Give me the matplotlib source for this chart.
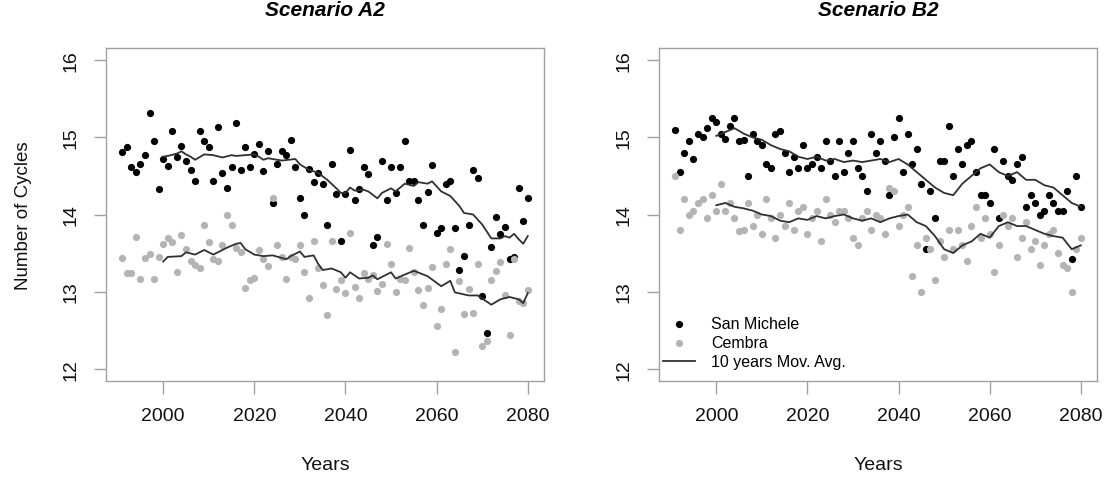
import matplotlib
matplotlib.use('Agg')
import matplotlib.pyplot as plt
import numpy as np

plt.rcParams['font.family'] = ['Liberation Sans', 'DejaVu Sans']

# Years of the annual series
years = np.arange(1991, 2081)

# Scenario A2 - annual values
a2_san_michele = [
    14.81, 14.88, 14.62, 14.55, 14.66, 14.77, 15.32, 14.95, 14.33, 14.72,
    14.63, 15.08, 14.74, 14.89, 14.70, 14.58, 14.44, 15.08, 14.95, 14.87,
    14.43, 15.14, 14.54, 14.35, 14.62, 15.19, 14.58, 14.88, 14.62, 14.78,
    14.92, 14.56, 14.83, 14.15, 14.65, 14.83, 14.77, 14.97, 14.62, 14.22,
    13.99, 14.59, 14.42, 14.54, 14.39, 13.87, 14.66, 14.26, 13.65, 14.27,
    14.84, 14.19, 14.33, 14.62, 14.53, 13.61, 13.71, 14.69, 14.19, 14.61,
    14.28, 14.62, 14.95, 14.43, 14.43, 14.19, 13.87, 14.29, 14.64, 13.76,
    13.83, 14.40, 14.43, 13.83, 13.28, 13.46, 13.87, 14.58, 14.48, 12.94,
    12.46, 13.58, 13.97, 13.75, 13.84, 13.42, 13.45, 14.35, 13.92, 14.22,
]
a2_cembra = [
    13.43, 13.24, 13.24, 13.71, 13.16, 13.43, 13.49, 13.16, 13.45, 13.62,
    13.70, 13.64, 13.25, 13.73, 13.55, 13.40, 13.35, 13.30, 13.86, 13.64,
    13.42, 13.40, 13.61, 13.99, 13.87, 13.57, 13.51, 13.05, 13.15, 13.18,
    13.54, 13.42, 13.33, 14.22, 13.60, 13.45, 13.16, 13.45, 13.42, 13.60,
    13.25, 12.92, 13.66, 13.30, 13.08, 12.70, 13.66, 13.03, 13.15, 12.98,
    13.76, 13.06, 12.92, 13.24, 13.16, 13.22, 13.01, 13.10, 13.62, 13.36,
    12.99, 13.16, 13.15, 13.56, 13.26, 13.02, 12.83, 13.05, 13.32, 12.56,
    12.78, 13.36, 13.55, 12.22, 13.14, 12.71, 13.03, 12.72, 13.36, 12.29,
    12.36, 13.15, 13.27, 13.39, 12.95, 12.44, 13.42, 12.88, 12.85, 13.02,
]

# Scenario A2 - 10 years moving averages
a2_sm_avg_years = [2000, 2001, 2003, 2004, 2005, 2006, 2007, 2009, 2011, 2013,
                   2015, 2016, 2018, 2020, 2021, 2022, 2023, 2024, 2026, 2029,
                   2030, 2032, 2034, 2036, 2038, 2039, 2040, 2041, 2042, 2044,
                   2045, 2047, 2048, 2050, 2051, 2053, 2055, 2056, 2058, 2059,
                   2061, 2063, 2065, 2066, 2068, 2070, 2072, 2074, 2075, 2076,
                   2077, 2078, 2079, 2080]
a2_sm_avg = [14.75, 14.76, 14.79, 14.82, 14.78, 14.75, 14.71, 14.78, 14.77, 14.74,
             14.77, 14.76, 14.77, 14.78, 14.75, 14.71, 14.73, 14.72, 14.70, 14.72,
             14.65, 14.58, 14.54, 14.45, 14.34, 14.28, 14.28, 14.35, 14.31, 14.32,
             14.30, 14.21, 14.28, 14.34, 14.30, 14.40, 14.37, 14.42, 14.40, 14.43,
             14.30, 14.24, 14.11, 14.02, 14.00, 13.87, 13.69, 13.69, 13.72, 13.70,
             13.75, 13.68, 13.62, 13.72]
a2_ce_avg_years = [2000, 2001, 2004, 2005, 2007, 2009, 2011, 2014, 2016, 2017,
                   2018, 2020, 2022, 2024, 2027, 2028, 2030, 2031, 2033, 2034,
                   2035, 2037, 2039, 2040, 2041, 2043, 2045, 2046, 2047, 2050,
                   2051, 2055, 2058, 2061, 2063, 2064, 2067, 2069, 2072, 2074,
                   2076, 2078, 2079, 2080]
a2_ce_avg = [13.39, 13.45, 13.46, 13.51, 13.48, 13.54, 13.48, 13.57, 13.62, 13.63,
             13.55, 13.48, 13.46, 13.47, 13.42, 13.46, 13.52, 13.45, 13.47, 13.36,
             13.28, 13.30, 13.25, 13.18, 13.25, 13.17, 13.18, 13.21, 13.16, 13.25,
             13.17, 13.27, 13.20, 13.07, 13.14, 12.99, 12.95, 12.95, 12.83, 12.90,
             12.93, 12.90, 12.85, 12.98]

# Scenario B2 - annual values
b2_san_michele = [
    15.10, 14.55, 14.80, 14.95, 14.72, 15.05, 15.00, 15.12, 15.25, 15.20,
    15.05, 14.98, 15.15, 15.25, 14.95, 14.97, 14.50, 15.05, 14.95, 14.90,
    14.65, 14.60, 15.05, 15.08, 14.80, 14.55, 14.75, 14.60, 14.90, 14.60,
    14.65, 14.75, 14.60, 14.95, 14.70, 14.50, 14.95, 14.55, 14.80, 14.95,
    14.60, 14.50, 14.30, 15.05, 14.80, 14.95, 14.70, 14.25, 15.00, 15.25,
    14.55, 15.05, 14.65, 14.85, 14.40, 13.55, 14.30, 13.95, 14.70, 14.70,
    15.15, 14.50, 14.85, 14.65, 14.90, 14.95, 14.55, 14.25, 14.25, 14.15,
    14.85, 13.95, 14.70, 14.50, 14.45, 14.65, 14.75, 14.10, 14.25, 14.15,
    14.00, 14.05, 14.25, 14.15, 14.05, 14.05, 14.30, 13.42, 14.50, 14.10,
]
b2_cembra = [
    14.50, 13.80, 14.20, 14.00, 14.05, 14.15, 14.20, 13.95, 14.25, 14.05,
    14.40, 14.05, 14.15, 13.95, 13.78, 13.80, 14.15, 13.85, 14.00, 13.75,
    14.20, 13.95, 13.70, 14.00, 13.85, 14.15, 13.80, 14.05, 14.10, 13.75,
    13.95, 14.05, 13.65, 14.20, 14.00, 13.90, 14.05, 14.05, 13.95, 13.70,
    13.60, 13.95, 14.05, 13.80, 14.00, 13.95, 13.75, 14.35, 14.30, 13.85,
    14.00, 14.10, 13.20, 13.60, 13.00, 13.70, 13.55, 13.15, 13.65, 13.45,
    13.80, 13.55, 13.80, 13.60, 13.40, 13.85, 14.10, 13.70, 13.95, 13.75,
    13.25, 13.60, 14.00, 13.85, 13.95, 13.45, 13.70, 13.90, 13.55, 13.65,
    13.35, 13.60, 13.75, 13.80, 13.50, 13.35, 13.30, 13.00, 13.55, 13.70,
]

# Scenario B2 - 10 years moving averages
b2_avg_years = list(range(2000, 2081, 2))
b2_sm_avg = [15.02, 15.07, 15.12, 15.05, 15.00, 14.97, 14.90, 14.85, 14.82, 14.75,
             14.72, 14.75, 14.70, 14.72, 14.68, 14.70, 14.68, 14.70, 14.72, 14.68,
             14.72, 14.65, 14.55, 14.45, 14.35, 14.28, 14.25, 14.40, 14.50, 14.60,
             14.65, 14.55, 14.50, 14.55, 14.45, 14.45, 14.38, 14.35, 14.25, 14.15,
             14.10]
b2_ce_avg = [14.12, 14.15, 14.10, 14.08, 14.05, 14.00, 13.98, 13.92, 13.90, 13.95,
             13.93, 13.98, 13.95, 13.98, 14.00, 13.95, 13.92, 13.95, 13.90, 13.95,
             13.98, 14.00, 13.90, 13.85, 13.72, 13.55, 13.50, 13.60, 13.65, 13.75,
             13.70, 13.85, 13.90, 13.85, 13.85, 13.80, 13.75, 13.72, 13.70, 13.55,
             13.60]

titles = ['Scenario A2', 'Scenario B2']
x_ticks = [2000, 2020, 2040, 2060, 2080]
y_ticks = [12, 13, 14, 15, 16]

SPINE_GRAY = '#a0a0a0'
POINT_GRAY = '#b4b4b4'
LINE_COLOR = '#303030'
MS = 27

fig = plt.figure(figsize=(11.05, 4.81), dpi=100)
ax_a = fig.add_axes([0.0959, 0.2058, 0.3964, 0.6923])
ax_b = fig.add_axes([0.5964, 0.2058, 0.3964, 0.6923])

panels = [
    (ax_a, a2_san_michele, a2_cembra, a2_sm_avg_years, a2_sm_avg, a2_ce_avg_years, a2_ce_avg),
    (ax_b, b2_san_michele, b2_cembra, b2_avg_years, b2_sm_avg, b2_avg_years, b2_ce_avg),
]

for i, (ax, sm, ce, smy, sma, cey, cea) in enumerate(panels):
    ax.scatter(years, sm, s=MS, color='black', linewidths=0, label='San Michele', zorder=3)
    ax.scatter(years, ce, s=MS, color=POINT_GRAY, linewidths=0, label='Cembra', zorder=3)
    ax.plot(smy, sma, color=LINE_COLOR, lw=1.3, label='10 years Mov. Avg.', zorder=4)
    ax.plot(cey, cea, color=LINE_COLOR, lw=1.3, zorder=4)

    # R-style 4% axis extension
    ax.set_xlim(1991 - 0.04 * 89, 2080 + 0.04 * 89)
    ax.set_ylim(12 - 0.16, 16 + 0.16)
    ax.set_xticks(x_ticks)
    ax.set_yticks(y_ticks)
    ax.tick_params(axis='both', direction='out', length=9, width=1,
                   color=SPINE_GRAY, labelsize=14, labelcolor='#111111', pad=10)
    for lab in ax.get_yticklabels():
        lab.set_rotation(90)
        lab.set_va('center')
    for sp in ax.spines.values():
        sp.set_color(SPINE_GRAY)
        sp.set_linewidth(1)

    ax.set_title(titles[i], fontsize=15, fontweight='bold', fontstyle='italic', pad=24)
    ax.set_xlabel('Years', fontsize=14, color='#111111')
    ax.xaxis.set_label_coords(0.5, -0.225)
    if i == 0:
        ax.set_ylabel('Number of Cycles', fontsize=13.5, color='#111111')
        ax.yaxis.set_label_coords(-0.17, 0.5)

ax_b.legend(loc='lower left', bbox_to_anchor=(0.01, 0.035), frameon=False,
            fontsize=11.5, borderaxespad=0, borderpad=0, labelspacing=0.25,
            handlelength=2.0, handletextpad=1.0, scatterpoints=1)

plt.savefig('out.png', dpi=100)
plt.close()
